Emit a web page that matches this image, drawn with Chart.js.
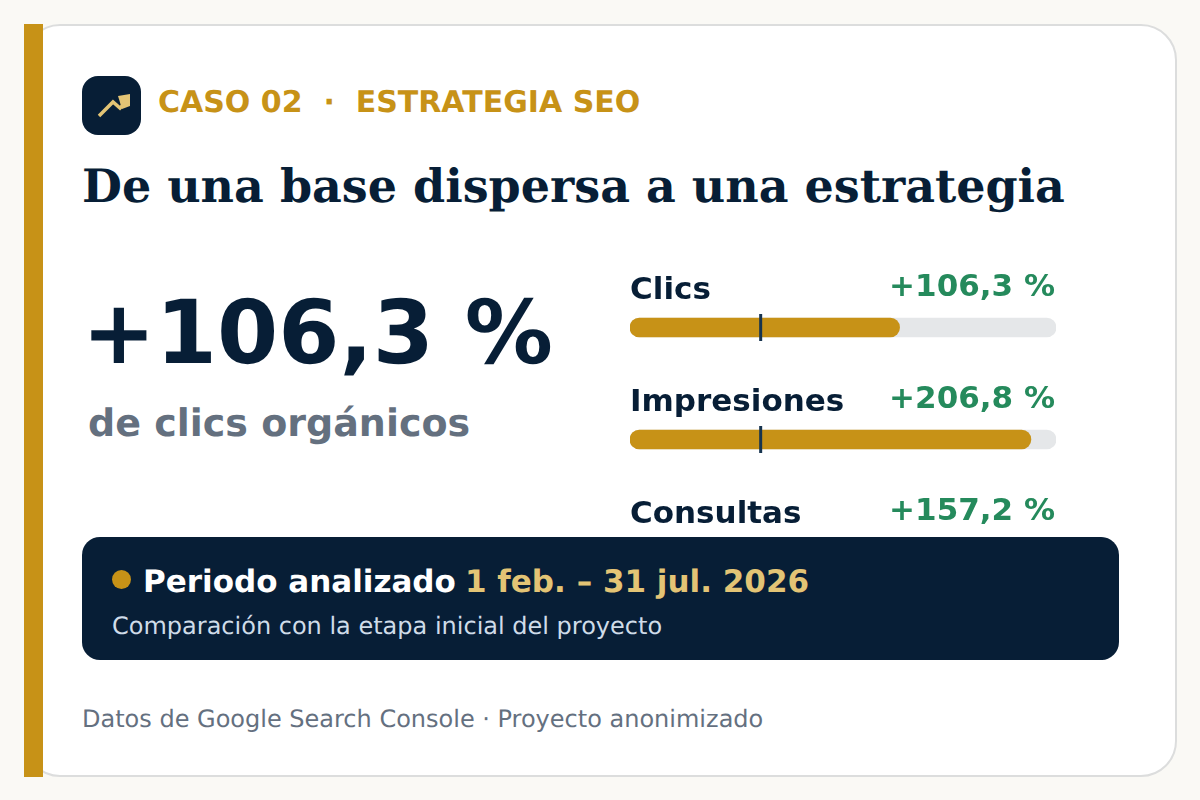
<!DOCTYPE html>
<html lang="es">
<head>
<meta charset="utf-8">
<title>Caso 02 · Estrategia SEO</title>
<script src="https://cdn.jsdelivr.net/npm/chart.js@4"></script>
<style>
  html, body { margin: 0; padding: 0; width: 1200px; height: 800px; overflow: hidden; background: #faf9f5; }
  body { position: relative; font-family: "DejaVu Sans", sans-serif; text-rendering: geometricPrecision; }
  .abs { position: absolute; white-space: pre; line-height: 1; }
  #card { position: absolute; left: 24px; top: 24px; width: 1149px; height: 749px; background: #fff; border: 2px solid #dcdddd; border-radius: 36px; }
  #stripe { position: absolute; left: 24px; top: 24px; width: 19px; height: 753px; background: #c79217; }
  #icon { position: absolute; left: 82px; top: 76px; width: 59px; height: 59px; background: #071e36; border-radius: 16px; }
  #eyebrow { left: 158px; top: 88px; font-size: 30px; font-weight: 700; color: #c79217; }
  #title { left: 82px; top: 163px; font-family: "DejaVu Serif", serif; font-size: 46px; font-weight: 700; color: #071e36; }
  #big { left: 82px; top: 289px; font-size: 88px; font-weight: 700; color: #071e36; }
  #bigsub { left: 88px; top: 404px; font-size: 38px; font-weight: 700; color: #64707f; }
  #bars { position: absolute; left: 620px; top: 260px; width: 450px; height: 350px; }
  #panel { position: absolute; left: 82px; top: 537px; width: 1037px; height: 123px; background: #071e36; border-radius: 18px; }
  #dot { position: absolute; left: 112px; top: 570px; width: 19px; height: 19px; border-radius: 50%; background: #c79217; }
  #period { left: 143px; top: 567px; font-size: 31px; font-weight: 700; color: #fff; }
  #dates { left: 465px; top: 567px; font-size: 31px; font-weight: 700; color: #e3c475; }
  #compare { left: 112px; top: 614px; font-size: 24px; color: #cfdce9; }
  #footer { left: 82px; top: 707px; font-size: 24px; color: #64707f; }
</style>
</head>
<body>
<div id="card"></div>
<div id="stripe"></div>
<div id="icon">
  <svg width="59" height="59" viewBox="0 0 59 59">
    <polyline points="17,40 31,26 38,32 44,26" fill="none" stroke="#e3c475" stroke-width="3.5"/>
    <polygon points="36,20 48,18 48,30 40,33" fill="#e3c475"/>
  </svg>
</div>
<div class="abs" id="eyebrow">CASO 02  ·  ESTRATEGIA SEO</div>
<div class="abs" id="title">De una base dispersa a una estrategia</div>
<div class="abs" id="big">+106,3 %</div>
<div class="abs" id="bigsub">de clics orgánicos</div>
<canvas id="bars" width="450" height="350"></canvas>
<div id="panel"></div>
<div id="dot"></div>
<div class="abs" id="period">Periodo analizado</div>
<div class="abs" id="dates">1 feb. – 31 jul. 2026</div>
<div class="abs" id="compare">Comparación con la etapa inicial del proyecto</div>
<div class="abs" id="footer">Datos de Google Search Console · Proyecto anonimizado</div>

<script>
  // index values, initial stage = 100
  const categories = ["Clics", "Impresiones", "Consultas"];
  const currentIndex = [206.3, 306.8, 257.2];
  const changeLabels = ["+106,3 %", "+206,8 %", "+157,2 %"];
  const baselineIndex = 100;
  const axisMax = 326;
  const trackValues = [326, 326, 326];

  const NAVY = "#071e36";
  const GOLD = "#c79217";
  const GREEN = "#258a5c";
  const TRACK = "#e5e7e9";

  // row names, change labels and the baseline tick on each row
  const rowDecor = {
    id: "rowDecor",
    afterDatasetsDraw(chart) {
      const ctx = chart.ctx;
      const x = chart.scales.x;
      const y = chart.scales.y;
      ctx.save();
      categories.forEach((name, i) => {
        const cy = y.getPixelForValue(i);
        ctx.font = "700 31px 'DejaVu Sans'";
        ctx.fillStyle = NAVY;
        ctx.textAlign = "left";
        ctx.fillText(name, x.left, cy - 28.5);
        ctx.fillStyle = GREEN;
        ctx.textAlign = "right";
        ctx.fillText(changeLabels[i], x.right - 1, cy - 31.5);
        ctx.fillStyle = "#17344f";
        ctx.fillRect(x.getPixelForValue(baselineIndex) - 1.5, cy - 13.5, 3, 27);
      });
      ctx.restore();
    },
  };

  new Chart(document.getElementById("bars"), {
    type: "bar",
    data: {
      labels: categories,
      datasets: [
        { data: currentIndex, backgroundColor: GOLD, borderRadius: 9.5, borderSkipped: false, barThickness: 19, grouped: false },
        { data: trackValues, backgroundColor: TRACK, borderRadius: 9.5, borderSkipped: false, barThickness: 19, grouped: false },
      ],
    },
    options: {
      indexAxis: "y",
      responsive: false,
      animation: false,
      layout: { padding: { left: 10, right: 14, top: 11.5, bottom: 2.5 } },
      plugins: { legend: { display: false }, tooltip: { enabled: false } },
      scales: {
        x: { display: false, min: 0, max: axisMax },
        y: { display: false },
      },
    },
    plugins: [rowDecor],
  });
</script>
</body>
</html>
